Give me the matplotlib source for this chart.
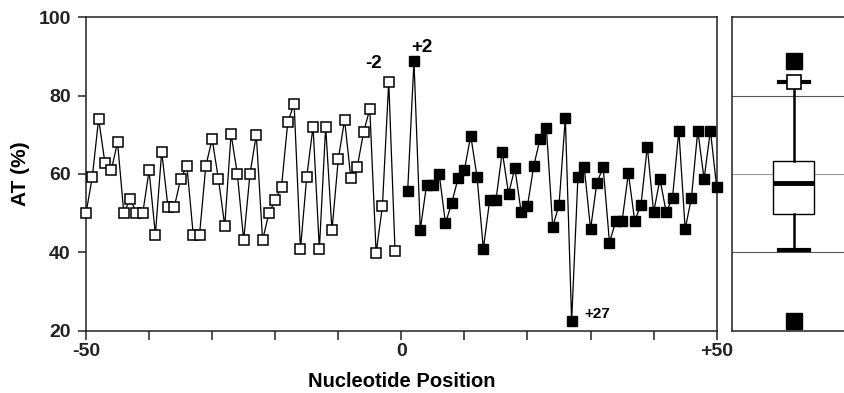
import numpy as np
import matplotlib.pyplot as plt

plt.rcParams['font.family'] = ['Liberation Sans', 'DejaVu Sans']
plt.rcParams['font.weight'] = 'bold'

# AT content upstream (-50..-1) and downstream (+1..+50)
up_pos = list(range(-50, 0))
up_at = [50.0, 59.2, 74.1, 62.9, 60.9, 68.1, 50.0, 53.7, 50.0, 50.0,
         60.9, 44.5, 65.7, 51.6, 51.6, 58.7, 62.1, 44.5, 44.5, 62.1,
         68.9, 58.7, 46.8, 70.2, 60.0, 43.1, 60.0, 70.0, 43.1, 50.0,
         53.3, 56.8, 73.3, 77.9, 40.8, 59.3, 72.1, 40.8, 72.1, 45.6,
         63.8, 73.8, 58.9, 61.7, 70.6, 76.6, 39.8, 51.8, 83.6, 40.3]
down_pos = list(range(1, 51))
down_at = [55.6, 88.8, 45.8, 57.2, 57.2, 60.0, 47.4, 52.7, 58.9, 61.0,
           69.8, 59.3, 40.9, 53.3, 53.3, 65.7, 55.0, 61.5, 50.2, 51.9,
           62.1, 69.0, 71.7, 46.5, 52.1, 74.3, 22.4, 59.3, 61.7, 45.9,
           57.8, 61.7, 42.5, 48.0, 48.0, 60.2, 48.0, 52.2, 67.0, 50.2,
           58.7, 50.2, 54.0, 71.1, 45.9, 54.0, 71.1, 58.7, 71.1, 56.6]

# box plot summary
box_q1, box_med, box_q3 = 49.7, 57.8, 63.2
box_lo, box_hi = 40.7, 83.4
labels = {-2: '-2', 2: '+2', 27: '+27'}

fig = plt.figure(figsize=(8.45, 3.93), dpi=100)
ax = fig.add_axes([86/845, 1-330.7/393, (716.7-86)/845, (330.7-17.3)/393])
axb = fig.add_axes([732.3/845, 1-330.7/393, 1-732.3/845, (330.7-17.3)/393])

ax.plot(up_pos, up_at, color='black', lw=0.9, marker='s', ms=7,
        mfc='white', mec='black', mew=1.1, zorder=3, clip_on=False)
ax.plot(down_pos, down_at, color='black', lw=0.9, marker='s', ms=7.5,
        mfc='black', mec='black', zorder=3, clip_on=False)

ax.set_xlim(-50, 50)
ax.set_ylim(20, 100)
ax.set_xticks(np.arange(-50, 51, 10))
ax.set_xticklabels(['-50', '', '', '', '', '0', '', '', '', '', '+50'])
ax.set_yticks([20, 40, 60, 80, 100])
ax.tick_params(axis='x', length=6.5, width=1.1, labelsize=14, pad=2, colors='#222')
ax.tick_params(axis='y', length=6, width=1.1, labelsize=14, pad=5, colors='#222')
for s in ax.spines.values():
    s.set_linewidth(1.1)
    s.set_color('#222')
ax.set_ylabel('AT (%)', fontsize=15, fontweight='bold')
ax.set_xlabel('Nucleotide Position', fontsize=14.5, fontweight='bold', va='top')
ax.yaxis.set_label_coords(-0.088, 0.5)
ax.xaxis.set_label_coords(0.5, -0.132)

up_map = dict(zip(up_pos, up_at))
down_map = dict(zip(down_pos, down_at))
ax.annotate(labels[-2], (-2, up_map[-2]), xytext=(-11, 7), textcoords='offset points',
            ha='center', va='bottom', fontsize=13.5, fontweight='bold')
ax.annotate(labels[2], (2, down_map[2]), xytext=(6, 4), textcoords='offset points',
            ha='center', va='bottom', fontsize=13.5, fontweight='bold')
ax.annotate(labels[27], (27, down_map[27]), xytext=(9, 5), textcoords='offset points',
            ha='left', va='center', fontsize=11, fontweight='bold')

# right panel: box plot
stats = [dict(med=box_med, q1=box_q1, q3=box_q3, whislo=box_lo, whishi=box_hi, fliers=[])]
axb.bxp(stats, positions=[1], widths=0.73, showfliers=False, patch_artist=True,
        boxprops=dict(facecolor='white', edgecolor='black', lw=1.0),
        medianprops=dict(color='black', lw=3.5),
        whiskerprops=dict(color='black', lw=1.8),
        capprops=dict(color='black', lw=3.0), capwidths=0.53, zorder=3)
axb.plot([1, 1], [down_map[2], down_map[27]], ls='none', marker='s', ms=11.5,
         mfc='black', mec='black', zorder=4)
axb.plot([1], [up_map[-2]], ls='none', marker='s', ms=10.5,
         mfc='white', mec='black', mew=1.2, zorder=4)
for yv in [40, 60, 80]:
    axb.axhline(yv, color='#555' if yv != 60 else '#999', lw=0.8, zorder=1)
axb.set_xlim(-0.092, 1.908)
axb.set_ylim(20, 100)
axb.set_xticks([])
axb.set_yticks([])
axb.spines['right'].set_visible(False)
for s in ['left', 'top', 'bottom']:
    axb.spines[s].set_linewidth(1.1)
    axb.spines[s].set_color('#222')

fig.savefig('out.png', dpi=100)
